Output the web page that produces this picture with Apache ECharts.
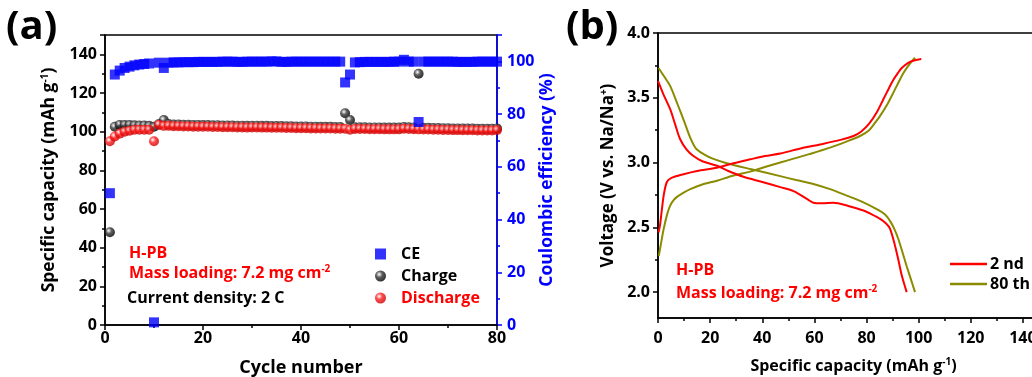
<!DOCTYPE html>
<html lang="en">
<head>
    <meta charset="UTF-8">
    <title>H-PB cycling</title>
    <script src="https://cdn.jsdelivr.net/npm/echarts@6/dist/echarts.min.js"></script>
    <style>
        html, body { margin: 0; padding: 0; background: #fff; }
        #charts { width: 1032px; height: 377px; }
    </style>
</head>
<body>
<div id="charts"></div>

<script>
    // (a) cycling data
    var cycles = [1, 2, 3, 4, 5, 6, 7, 8, 9, 10,
        11, 12, 13, 14, 15, 16, 17, 18, 19, 20,
        21, 22, 23, 24, 25, 26, 27, 28, 29, 30,
        31, 32, 33, 34, 35, 36, 37, 38, 39, 40,
        41, 42, 43, 44, 45, 46, 47, 48, 49, 50,
        51, 52, 53, 54, 55, 56, 57, 58, 59, 60,
        61, 62, 63, 64, 65, 66, 67, 68, 69, 70,
        71, 72, 73, 74, 75, 76, 77, 78, 79, 80];

    var ceData = [50, 95, 96.5, 97.5, 98, 98.5, 98.8, 99, 99.2, 1,
        99.5, 97.5, 99.5, 99.6, 99.6, 99.7, 99.7, 99.7, 99.8, 99.8,
        99.8, 99.8, 99.8, 99.9, 99.9, 99.9, 99.8, 99.8, 99.9, 99.9,
        99.9, 99.9, 99.9, 100, 100, 99.8, 99.8, 99.9, 99.9, 99.9,
        99.9, 99.9, 99.9, 99.9, 99.9, 99.9, 99.9, 99.9, 92, 95,
        99.6, 99.7, 99.8, 99.8, 99.8, 99.8, 99.8, 99.8, 99.9, 99.9,
        100.6, 99.9, 99.9, 77, 99.9, 99.9, 99.9, 99.9, 99.9, 99.9,
        99.9, 99.8, 99.8, 99.8, 99.8, 99.9, 99.9, 99.9, 99.9, 99.9];

    var chargeData = [48, 102.5, 103.5, 103.5, 103.5, 103.3, 103.2, 103.2, 103, 102.5,
        104, 106, 104, 103.7, 103.7, 103.6, 103.6, 103.5, 103.5, 103.4,
        103.4, 103.3, 103.3, 103.2, 103.2, 103.2, 103.1, 103.1, 103, 103.1,
        103.1, 103, 103, 102.9, 102.9, 102.9, 102.8, 102.8, 102.7, 102.7,
        102.7, 102.6, 102.6, 102.5, 102.5, 102.5, 102.4, 102.4, 109.5, 106,
        102.3, 102.3, 102.3, 102.2, 102.2, 102.2, 102.1, 102.1, 102.1, 102.1,
        102.4, 102.3, 102.2, 130, 102, 102, 101.9, 101.9, 101.8, 101.8,
        101.7, 101.7, 101.6, 101.6, 101.6, 101.5, 101.5, 101.5, 101.5, 101.7];

    var dischargeData = [95, 97.5, 99, 100, 100.5, 101, 101, 101, 101, 95,
        103.5, 103, 103, 102.8, 102.8, 102.7, 102.7, 102.6, 102.6, 102.5,
        102.5, 102.4, 102.4, 102.3, 102.3, 102.3, 102.2, 102.2, 102.1, 102.2,
        102.2, 102.1, 102.1, 102, 102, 102, 101.9, 101.9, 101.8, 101.8,
        101.8, 101.7, 101.7, 101.6, 101.6, 101.6, 101.5, 101.5, 101.5, 101,
        101.4, 101.4, 101.4, 101.3, 101.3, 101.3, 101.2, 101.2, 101.2, 101.2,
        101.5, 101.4, 101.3, 101.2, 101.1, 101.1, 101, 101, 100.9, 100.9,
        100.8, 100.8, 100.7, 100.7, 100.7, 100.6, 100.6, 100.6, 100.6, 100.8];

    // (b) voltage profiles [capacity, voltage]
    var charge2nd = [[0.2, 2.46], [0.8, 2.52], [1.5, 2.64], [2.3, 2.76], [3.4, 2.85], [5, 2.88],
        [9.8, 2.91], [15, 2.935], [22.6, 2.96], [29, 2.995], [35.4, 3.025], [41, 3.05],
        [46.9, 3.07], [55, 3.11], [62.2, 3.14], [70, 3.175], [75, 3.205], [78, 3.24],
        [81, 3.3], [84, 3.39], [86.5, 3.49], [88.5, 3.57], [90.3, 3.64], [92, 3.69],
        [93.5, 3.73], [96, 3.77], [98.5, 3.79], [101, 3.8]];
    var discharge2nd = [[0, 3.63], [2, 3.53], [4.7, 3.41], [6.5, 3.3], [8.5, 3.18], [11, 3.1],
        [13.6, 3.05], [17, 3.01], [22.6, 2.975], [27, 2.935], [32.8, 2.89], [40, 2.85],
        [46.9, 2.81], [52, 2.78], [57.1, 2.72], [59.6, 2.69], [63, 2.685], [67.3, 2.69],
        [73, 2.665], [78.8, 2.63], [82, 2.6], [85.2, 2.565], [87.5, 2.53], [89, 2.49],
        [90.9, 2.36], [92.2, 2.25], [93.5, 2.13], [95.4, 2.0]];
    var charge80th = [[0.3, 2.28], [1.2, 2.38], [2.2, 2.49], [3.5, 2.6], [4.7, 2.67], [6, 2.71],
        [7.3, 2.735], [10, 2.77], [12.4, 2.795], [17, 2.83], [22.6, 2.86], [29, 2.9],
        [35.4, 2.93], [41, 2.965], [46.9, 3.0], [52, 3.03], [58, 3.065], [66, 3.115],
        [72, 3.16], [77.5, 3.205], [81, 3.25], [83, 3.3], [85.2, 3.36], [88, 3.45],
        [90.3, 3.54], [92.3, 3.62], [94.1, 3.69], [96.5, 3.76], [98.6, 3.81]];
    var discharge80th = [[0.2, 3.73], [2.5, 3.66], [4.7, 3.59], [7.5, 3.45], [10, 3.32], [12.4, 3.19],
        [14.5, 3.11], [17.5, 3.065], [21, 3.03], [26.4, 2.995], [35.4, 2.95], [46.9, 2.895],
        [53, 2.865], [59.6, 2.835], [66, 2.795], [72.4, 2.745], [78, 2.7], [83.9, 2.64],
        [87, 2.6], [89, 2.55], [90.6, 2.49], [92.2, 2.41], [95.4, 2.2], [97, 2.1], [98.6, 2.0]];

    var voltTicks = [2.0, 2.5, 3.0, 3.5, 4.0];
    var voltMinorTicks = [2.25, 2.75, 3.25, 3.75];

    function pairs(xs, ys) {
        var out = [];
        for (var i = 0; i < xs.length; i++) {
            out.push([xs[i], ys[i]]);
        }
        return out;
    }

    function ball(c1, c2) {
        return {
            type: 'radial', x: 0.38, y: 0.35, r: 0.65,
            colorStops: [
                {offset: 0, color: '#ffffff'},
                {offset: 0.45, color: c1},
                {offset: 1, color: c2}
            ]
        };
    }

    var FONT = '"Open Sans", "DejaVu Sans", sans-serif';

    function sup(size, color) {
        return {fontSize: size, fontWeight: 'bold', fontFamily: FONT, color: color, fill: color,
            verticalAlign: 'top', padding: [0, 0, 8, 0]};
    }

    var myChart = echarts.init(document.getElementById('charts'));

    function axisBase(color, nameSize) {
        return {
            axisLine: {show: true, lineStyle: {color: color, width: 1.5}},
            axisTick: {show: true, inside: false, length: 5, lineStyle: {color: color, width: 1.5}},
            minorTick: {show: true, splitNumber: 2, length: 3, lineStyle: {color: color, width: 1.5}},
            splitLine: {show: false},
            axisLabel: {color: color, fontSize: 16, fontWeight: 'bold', fontFamily: FONT},
            nameTextStyle: {color: color, fontSize: nameSize, fontWeight: 'bold', fontFamily: FONT,
                rich: {sup: sup(10, color)}}
        };
    }

    function merge(a, b) {
        for (var k in b) a[k] = b[k];
        return a;
    }

    var xA = merge(axisBase('#000', 18), {
        type: 'value', gridIndex: 0, min: 0, max: 80, interval: 20,
        name: 'Cycle number', nameLocation: 'middle', nameGap: 34
    });
    xA.axisLabel.margin = 5;

    var yLeft = merge(axisBase('#000', 17.5), {
        type: 'value', gridIndex: 0, position: 'left', min: 0, max: 150, interval: 20,
        name: 'Specific capacity (mAh g{sup|-1})', nameLocation: 'middle', nameGap: 47
    });
    yLeft.axisLabel.showMaxLabel = false;
    yLeft.axisLabel.margin = 8;

    var yRight = merge(axisBase('#0000ff', 17.5), {
        type: 'value', gridIndex: 0, position: 'right', min: 0, max: 110, interval: 20,
        name: 'Coulombic efficiency (%)', nameLocation: 'middle', nameGap: 39
    });
    yRight.axisLabel.showMaxLabel = false;
    yRight.axisLabel.margin = 10;

    var xB = merge(axisBase('#000', 16), {
        type: 'value', gridIndex: 1, min: 0, max: 150, interval: 20,
        name: 'Specific capacity (mAh g{sup|-1})', nameLocation: 'middle', nameGap: 39
    });
    xB.axisLabel.margin = 12;
    xB.axisLabel.showMaxLabel = false;

    var yB = merge(axisBase('#000', 17), {
        type: 'value', gridIndex: 1, position: 'left', min: 1.8, max: 4.0,
        name: 'Voltage (V vs. Na/Na{sup|+})', nameLocation: 'middle', nameGap: 41
    });
    yB.minorTick = {show: false};
    yB.axisTick.customValues = voltTicks;
    yB.axisLabel.customValues = voltTicks;
    yB.axisLabel.margin = 8;
    yB.axisLabel.formatter = function (v) { return v.toFixed(1); };

    var yBminor = {
        type: 'value', gridIndex: 1, position: 'left', min: 1.8, max: 4.0,
        axisLine: {show: false},
        axisLabel: {show: false},
        splitLine: {show: false},
        axisTick: {show: true, length: 3, customValues: voltMinorTicks, lineStyle: {color: '#000', width: 1.5}}
    };

    var textBase = {fontSize: 16, fontWeight: 'bold', fontFamily: FONT};

    option = {
        backgroundColor: '#fff',
        animation: false,
        grid: [
            {left: 105, top: 35, right: 535, bottom: 52, outerBoundsMode: 'none', containLabel: false,
                show: true, borderColor: '#000', borderWidth: 1.5, backgroundColor: 'transparent'},
            {left: 658, top: 33, right: -17, bottom: 59, outerBoundsMode: 'none', containLabel: false,
                show: true, borderColor: '#000', borderWidth: 1.5, backgroundColor: 'transparent'}
        ],
        xAxis: [xA, xB],
        yAxis: [yLeft, yRight, yB, yBminor],
        legend: [
            {
                data: [
                    {name: 'CE', icon: 'rect'},
                    {name: 'Charge', icon: 'circle'},
                    {name: 'Discharge', icon: 'circle', textStyle: {color: '#ff0000'}}
                ],
                orient: 'vertical', left: 370, top: 241,
                itemWidth: 11, itemHeight: 11, itemGap: 6,
                textStyle: merge({color: '#000', padding: [0, 0, 0, 10]}, textBase)
            },
            {
                data: ['2 nd', '80 th'],
                orient: 'vertical', left: 945, top: 251,
                icon: 'rect', itemWidth: 37, itemHeight: 2.5, itemGap: 4,
                textStyle: merge({color: '#000', padding: [0, 0, 0, -2]}, textBase)
            }
        ],
        graphic: [
            {type: 'text', left: 6, top: 8, style: {text: '(a)', font: 'bold 40px ' + FONT, fill: '#000'}},
            {type: 'text', left: 566, top: 8, style: {text: '(b)', font: 'bold 40px ' + FONT, fill: '#000'}},
            {type: 'text', left: 129, top: 245, style: merge({text: 'H-PB', fill: '#ff0000'}, textBase)},
            {type: 'text', left: 129, top: 264, style: merge({text: 'Mass loading: 7.2 mg cm{sup|-2}', fill: '#ff0000', rich: {sup: sup(10, '#ff0000')}}, textBase)},
            {type: 'text', left: 127, top: 290, style: merge({text: 'Current density: 2 C', fill: '#000'}, textBase)},
            {type: 'text', left: 676, top: 262, style: merge({text: 'H-PB', fill: '#ff0000'}, textBase)},
            {type: 'text', left: 676, top: 284, style: merge({text: 'Mass loading: 7.2 mg cm{sup|-2}', fill: '#ff0000', rich: {sup: sup(10, '#ff0000')}}, textBase)}
        ],
        series: [
            {
                name: 'Charge', type: 'scatter', xAxisIndex: 0, yAxisIndex: 0,
                symbolSize: 10, itemStyle: {color: ball('#333', '#000')},
                data: pairs(cycles, chargeData)
            },
            {
                name: 'Discharge', type: 'scatter', xAxisIndex: 0, yAxisIndex: 0,
                symbolSize: 10, itemStyle: {color: ball('#ff1a1a', '#cc0000')},
                data: pairs(cycles, dischargeData)
            },
            {
                name: 'CE', type: 'scatter', xAxisIndex: 0, yAxisIndex: 1,
                symbol: 'rect', symbolSize: 10, itemStyle: {color: '#0000ff'},
                data: pairs(cycles, ceData)
            },
            {
                name: '80 th', type: 'line', xAxisIndex: 1, yAxisIndex: 2,
                showSymbol: false, smooth: 0.3, itemStyle: {color: '#8b8b00'},
                lineStyle: {color: '#8b8b00', width: 2}, data: charge80th
            },
            {
                name: '80 th', type: 'line', xAxisIndex: 1, yAxisIndex: 2,
                showSymbol: false, smooth: 0.3, itemStyle: {color: '#8b8b00'},
                lineStyle: {color: '#8b8b00', width: 2}, data: discharge80th
            },
            {
                name: '2 nd', type: 'line', xAxisIndex: 1, yAxisIndex: 2,
                showSymbol: false, smooth: 0.3, itemStyle: {color: '#ff0000'},
                lineStyle: {color: '#ff0000', width: 2}, data: charge2nd
            },
            {
                name: '2 nd', type: 'line', xAxisIndex: 1, yAxisIndex: 2,
                showSymbol: false, smooth: 0.3, itemStyle: {color: '#ff0000'},
                lineStyle: {color: '#ff0000', width: 2}, data: discharge2nd
            }
        ]
    };

    myChart.setOption(option);
</script>
</body>
</html>
